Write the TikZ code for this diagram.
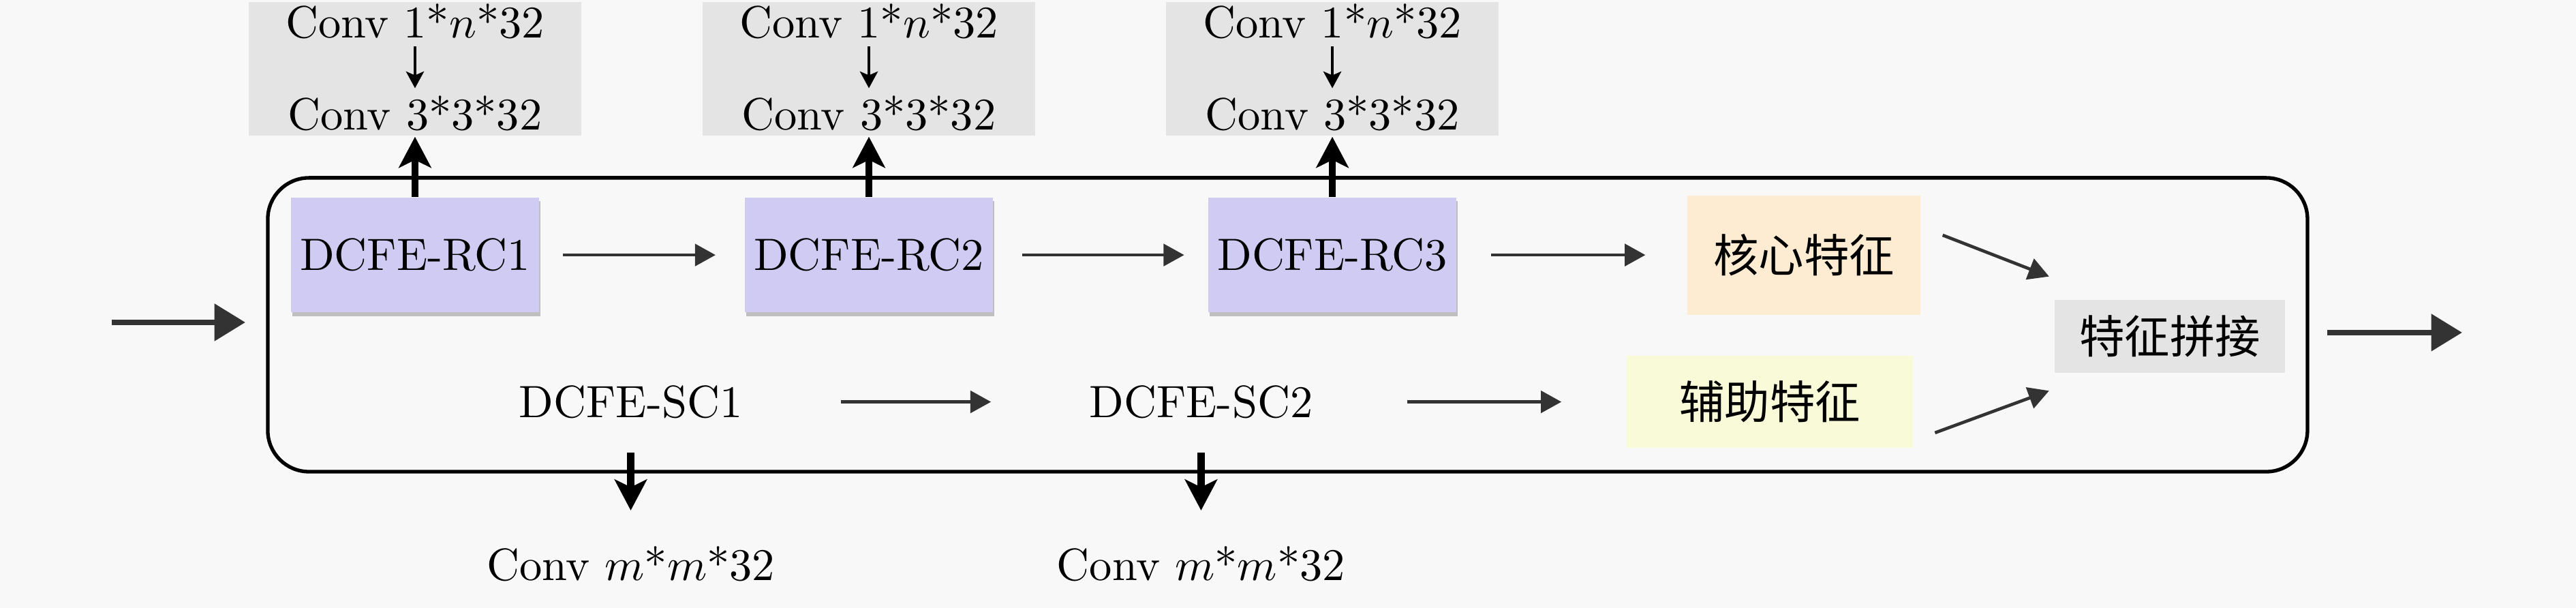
\documentclass[tikz,border=0pt]{standalone}
\usepackage{fontspec}
\newfontfamily\cjk{Noto Sans CJK SC}
\usepackage{tikz}
\usetikzlibrary{positioning,arrows.meta,shadows}
\definecolor{bgcol}{HTML}{F8F8F8}
\definecolor{rccol}{HTML}{CFCBF2}
\definecolor{corecol}{HTML}{FDEBD2}
\definecolor{auxcol}{HTML}{F8FAD8}
\definecolor{boxgray}{HTML}{E4E4E4}
\definecolor{arrgray}{HTML}{333333}

\begin{document}
\begin{tikzpicture}
                [rc/.style={fill=rccol,minimum width=1.92cm,minimum height=0.89cm,inner sep=2pt,
                    drop shadow={shadow xshift=0.3pt,shadow yshift=-0.8pt,fill=black!25,opacity=1}},
                convbox/.style={fill=boxgray,minimum width=2.58cm,minimum height=1.04cm},
                lineflow/.style={-{Triangle[length=1.6mm,width=1.7mm]},arrgray,line width=0.7pt},
                convflow/.style={-{Stealth[length=1.3mm,width=1.4mm,inset=0.3mm]},line width=0.5pt},
                upflow/.style={-{Stealth[length=2.4mm,width=2.5mm,inset=0.6mm]},line width=1.6pt},
                ioflow/.style={-{Triangle[length=2.4mm,width=2.8mm]},arrgray,line width=1.3pt},
                node distance=1.62cm]
                \fill[bgcol] (0,0) rectangle (20,4.7196);
                \useasboundingbox (0,0) rectangle (20,4.7196);
                \node[draw,rounded corners=0.32cm,line width=0.8pt,minimum width=15.836cm,
                    minimum height=2.281cm] (frame) at (9.997,2.1985){};
                % upper branch
                \node[rc] (rc1) at (3.222,2.74){DCFE-RC1};
                \node[rc,node distance=1.583cm] (rc2)[right=of rc1]{DCFE-RC2};
                \node[rc,node distance=1.657cm] (rc3)[right=of rc2]{DCFE-RC3};
                \node[fill=corecol,minimum width=1.81cm,minimum height=0.926cm] (core)[right=1.78cm of rc3]{\cjk 核心特征};
                % lower branch
                \node (sc1) at (4.897,1.6){DCFE-SC1};
                \node (sc2) at (9.325,1.6){DCFE-SC2};
                \node (m1)[below=0.745cm of sc1]{Conv $m$*$m$*32};
                \node (m2)[below=0.745cm of sc2]{Conv $m$*$m$*32};
                \node[fill=auxcol,minimum width=2.222cm,minimum height=0.714cm] (aux) at (13.741,1.6){\cjk 辅助特征};
                \node[fill=boxgray,minimum width=1.788cm,minimum height=0.566cm] (concat) at (16.847,2.108){\cjk 特征拼接};
                \foreach \i in {1,2,3}{
                    \node[convbox] (g\i)[above=0.466cm of rc\i]{};
                    \node[inner sep=1pt] (a\i) at ([yshift=0.371cm]g\i.center){Conv 1*$n$*32};
                    \node[inner sep=1pt] (b\i) at ([yshift=-0.348cm]g\i.center){Conv 3*3*32};
                    \draw[convflow,shorten <=0.02cm,shorten >=0.02cm] (a\i) -- (b\i);
                    \draw[upflow] (rc\i) -- (g\i);
                }
                \draw[upflow,shorten <=0.14cm,shorten >=0.154cm] (sc1) -- (m1);
                \draw[upflow,shorten <=0.14cm,shorten >=0.154cm] (sc2) -- (m2);
                \draw[lineflow,shorten <=0.18cm,shorten >=0.22cm] (rc1) -- (rc2);
                \draw[lineflow,shorten <=0.22cm,shorten >=0.18cm] (rc2) -- (rc3);
                \draw[lineflow,shorten <=0.26cm,shorten >=0.32cm] (rc3) -- (core);
                \draw[lineflow,shorten <=0.64cm,shorten >=0.64cm] (sc1) -- (sc2);
                \draw[lineflow,shorten <=0.61cm,shorten >=0.5cm] (sc2) -- (aux);
                \draw[lineflow] ([xshift=0.164cm,yshift=0.154cm]core.east) -- ([xshift=-0.037cm,yshift=0.175cm]concat.north west);
                \draw[lineflow] ([xshift=0.164cm,yshift=-0.24cm]aux.east) -- ([xshift=-0.037cm,yshift=-0.132cm]concat.south west);
                % in and out
                \coordinate (in) at (0.868,2.217);
                \coordinate (out) at (19.116,2.138);
                \draw[ioflow,shorten >=0.16cm] (in) -- (in -| frame.west);
                \draw[ioflow,shorten <=0.14cm] (out -| frame.east) -- (out);
            \end{tikzpicture}
\end{document}
